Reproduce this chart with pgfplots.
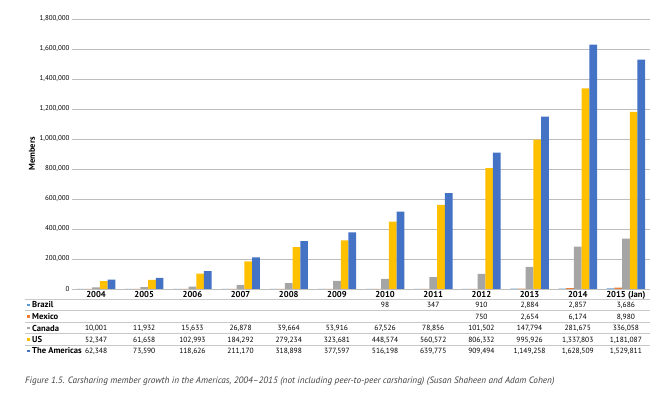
\documentclass[border=0pt]{standalone}
\usepackage{pgfplots}
\pgfplotsset{compat=1.18}
\usepackage{fontspec}
\setmainfont{PT Sans}
\definecolor{cBrazil}{HTML}{5B9BD5}
\definecolor{cMexico}{HTML}{ED7D31}
\definecolor{cCanada}{HTML}{A5A5A5}
\definecolor{cUS}{HTML}{FFC000}
\definecolor{cAm}{HTML}{4472C4}
\definecolor{gridc}{HTML}{BDBDBD}
\definecolor{tabc}{HTML}{C8C8C8}
\begin{document}
\begin{tikzpicture}
\useasboundingbox (-72pt,-105pt) rectangle (593pt,289pt);
\begin{axis}[at={(0,0)}, anchor=south west, scale only axis, width=578pt, height=270pt,
 ybar=0pt, bar width=7.7pt, xmin=-0.5, xmax=11.5, ymin=0, ymax=1800000,
 ytick distance=200000, xtick=\empty, axis line style={draw=none},
 ymajorgrids, grid style={gridc, line width=0.7pt},
 major tick length=0pt, scaled y ticks=false,
 /pgf/number format/assume math mode=true,
 yticklabel style={font=\fontsize{7}{8}\selectfont, /pgf/number format/fixed, /pgf/number format/1000 sep={,}, xshift=1pt},
 ylabel={\bfseries Members},
 every axis y label/.style={at={(axis description cs:-0.0692,0.5)}, rotate=90, anchor=center, font=\fontsize{8.5}{10}\selectfont},
 clip=false]
\addplot[fill=cBrazil, draw=none] coordinates {(0,0)(1,0)(2,0)(3,0)(4,0)(5,0)(6,98)(7,347)(8,910)(9,2884)(10,2857)(11,3686)};
\addplot[fill=cMexico, draw=none] coordinates {(0,0)(1,0)(2,0)(3,0)(4,0)(5,0)(6,0)(7,0)(8,750)(9,2654)(10,6174)(11,8980)};
\addplot[fill=cCanada, draw=none] coordinates {(0,10001)(1,11932)(2,15633)(3,26878)(4,39664)(5,53916)(6,67526)(7,78856)(8,101502)(9,147794)(10,281675)(11,336058)};
\addplot[fill=cUS, draw=none] coordinates {(0,52347)(1,61658)(2,102993)(3,184292)(4,279234)(5,323681)(6,448574)(7,560572)(8,806332)(9,995926)(10,1337803)(11,1181087)};
\addplot[fill=cAm, draw=none] coordinates {(0,62348)(1,73590)(2,118626)(3,211170)(4,318898)(5,377597)(6,516198)(7,639775)(8,909494)(9,1149258)(10,1628509)(11,1529811)};
\end{axis}
\def\colw{48.1667}
% table lines
\foreach \y in {-10.3,-21.8,-33.3,-44.8,-56.3}
  \draw[tabc, line width=0.7pt] (-47pt,\y pt) -- (578pt,\y pt);
% year row
\foreach \v [count=\i from 0] in {2004,2005,2006,2007,2008,2009,2010,2011,2012,2013,2014,2015 (Jan)}
  \node[font=\fontsize{8.6}{9}\selectfont\bfseries, inner sep=0pt, anchor=base] at ({(\i+0.5)*\colw pt},-8.1pt) {\v};
% row labels
\foreach \c/\t/\y in {cBrazil/Brazil/-16, cMexico/Mexico/-27.5, cCanada/Canada/-39, cUS/US/-50.5, cAm/The Americas/-61.8}{
  \fill[\c] (-44.5pt,\y pt-1.3pt) rectangle (-41.9pt,\y pt+1.3pt);
  \node[anchor=base west, inner sep=0pt, font=\fontsize{8.6}{9}\selectfont\bfseries] at (-40pt,\y pt-3pt) {\t};
}
\tikzset{tabnum/.style={font=\fontsize{7.5}{9}\selectfont, inner sep=0pt, anchor=base}}
\foreach \v [count=\i from 6] in {98,347,910,{2,884},{2,857},{3,686}}
  \node[tabnum] at ({(\i+0.5)*\colw pt},-18.7pt) {\v};
\foreach \v [count=\i from 8] in {750,{2,654},{6,174},{8,980}}
  \node[tabnum] at ({(\i+0.5)*\colw pt},-30.2pt) {\v};
\foreach \v [count=\i from 0] in {{10,001},{11,932},{15,633},{26,878},{39,664},{53,916},{67,526},{78,856},{101,502},{147,794},{281,675},{336,058}}
  \node[tabnum] at ({(\i+0.5)*\colw pt},-41.7pt) {\v};
\foreach \v [count=\i from 0] in {{52,347},{61,658},{102,993},{184,292},{279,234},{323,681},{448,574},{560,572},{806,332},{995,926},{1,337,803},{1,181,087}}
  \node[tabnum] at ({(\i+0.5)*\colw pt},-53.2pt) {\v};
\foreach \v [count=\i from 0] in {{62,348},{73,590},{118,626},{211,170},{318,898},{377,597},{516,198},{639,775},{909,494},{1,149,258},{1,628,509},{1,529,811}}
  \node[tabnum] at ({(\i+0.5)*\colw pt},-64.5pt) {\v};
% caption
\node[anchor=base west, inner sep=0pt, font=\fontsize{9.2}{10}\selectfont\itshape, text=black!75] at (-47pt,-94pt)
 {Figure 1.5. Carsharing member growth in the Americas, 2004–2015 (not including peer-to-peer carsharing) (Susan Shaheen and Adam Cohen)};
\end{tikzpicture}
\end{document}
